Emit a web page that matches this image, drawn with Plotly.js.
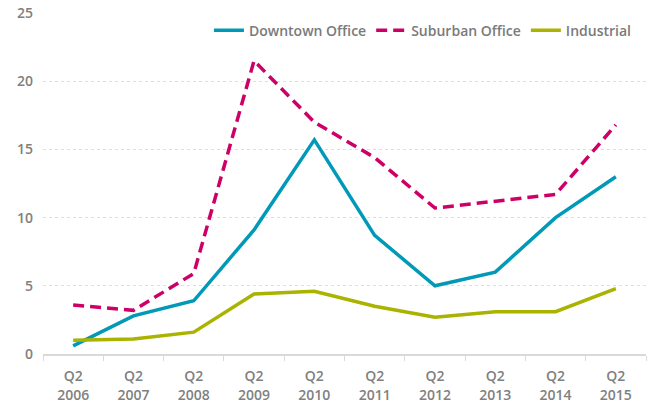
<!DOCTYPE html>
<html><head><meta charset="utf-8">
<script src="https://cdn.plot.ly/plotly-3.0.1.min.js"></script>
<style>body{margin:0;background:#fff}#chart{width:649px;height:402px}</style>
</head><body><div id="chart"></div>
<script>
const categories = ["Q2<br>2006","Q2<br>2007","Q2<br>2008","Q2<br>2009","Q2<br>2010","Q2<br>2011","Q2<br>2012","Q2<br>2013","Q2<br>2014","Q2<br>2015"];
const downtown = [0.6, 2.8, 3.9, 9.1, 15.7, 8.7, 5.0, 6.0, 10.0, 13.0];
const suburban = [3.6, 3.2, 5.9, 21.5, 17.0, 14.4, 10.7, 11.2, 11.7, 16.8];
const industrial = [1.0, 1.1, 1.6, 4.4, 4.6, 3.5, 2.7, 3.1, 3.1, 4.8];
const yTicks = [0, 5, 10, 15, 20, 25];

const fam = "Open Sans, DejaVu Sans, sans-serif";
const font = {family: fam, size: 14, color: "#808080", weight: 600};
const traces = [
  {x: categories, y: downtown, name: "Downtown Office", type: "scatter", mode: "lines",
   line: {color: "#0099B8", width: 3.5}},
  {x: categories, y: suburban, name: "Suburban Office", type: "scatter", mode: "lines",
   line: {color: "#CC0066", width: 3.5, dash: "11px,6px"}},
  {x: categories, y: industrial, name: "Industrial", type: "scatter", mode: "lines",
   line: {color: "#A9B300", width: 3.5}}
];
const layout = {
  width: 649, height: 402,
  margin: {l: 43, r: 3, t: 13, b: 48},
  paper_bgcolor: "#fff", plot_bgcolor: "#fff",
  font: font,
  showlegend: true,
  legend: {orientation: "h", x: 0.985, xanchor: "right", y: 0.995, yanchor: "top",
           font: {family: fam, size: 14, color: "#7a7a7a", weight: 600},
           bgcolor: "rgba(0,0,0,0)", itemwidth: 30, tracegroupgap: 0},
  xaxis: {type: "category", showgrid: false, showline: true, linecolor: "#d9d9d9", linewidth: 1.5,
          ticks: "outside", tickson: "boundaries", ticklen: 5, tickcolor: "#d9d9d9",
          tickfont: font, ticklabelstandoff: 9, zeroline: false, range: [-0.5, 9.5]},
  yaxis: {range: [0, 25], tickvals: yTicks, showgrid: true, gridcolor: "#dedede", griddash: "dot",
          gridwidth: 1, zeroline: false, showline: false, ticks: "", ticklabelstandoff: 9,
          tickfont: font}
};
Plotly.newPlot("chart", traces, layout, {displayModeBar: false, staticPlot: true});
</script></body></html>
